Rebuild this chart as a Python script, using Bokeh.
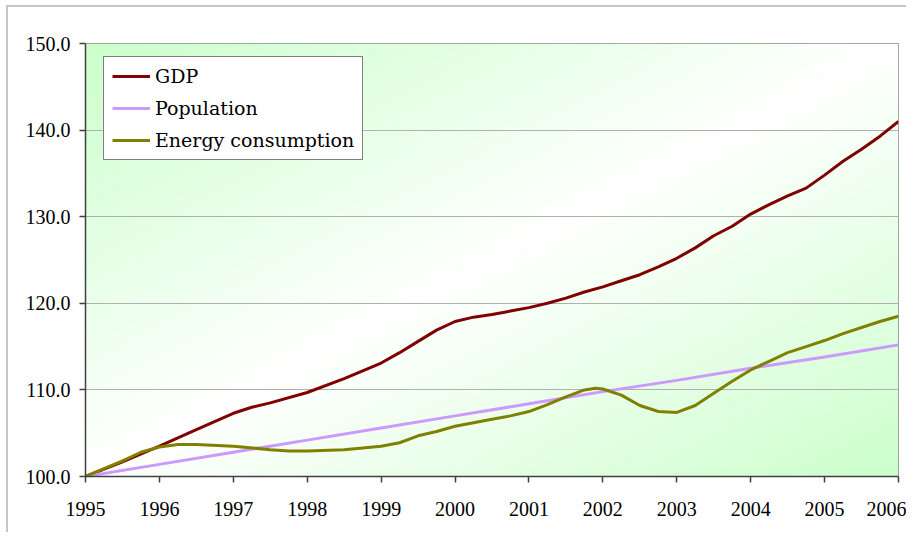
import numpy as np
from bokeh.plotting import figure
from bokeh.models import FixedTicker, NumeralTickFormatter, Legend, LegendItem
from bokeh.embed import file_html
from bokeh.resources import INLINE

# ---- data (index, 1995 = 100) ----
gdp_years = [1995.0, 1995.5, 1996.0, 1996.5, 1997.0, 1997.25, 1997.5, 1998.0, 1998.5,
             1999.0, 1999.25, 1999.5, 1999.75, 2000.0, 2000.25, 2000.5, 2000.75,
             2001.0, 2001.25, 2001.5, 2001.75, 2002.0, 2002.25, 2002.5, 2002.75,
             2003.0, 2003.25, 2003.5, 2003.75, 2004.0, 2004.25, 2004.5, 2004.75,
             2005.0, 2005.25, 2005.5, 2005.75, 2006.0]
gdp = [100.0, 101.7, 103.5, 105.4, 107.3, 108.0, 108.5, 109.7, 111.3,
       113.1, 114.3, 115.6, 116.9, 117.9, 118.4, 118.7, 119.1,
       119.5, 120.0, 120.6, 121.3, 121.9, 122.6, 123.3, 124.2,
       125.2, 126.4, 127.8, 128.9, 130.3, 131.4, 132.4, 133.3,
       134.8, 136.4, 137.8, 139.3, 141.0]

pop_years = [1995, 1996, 1997, 1998, 1999, 2000, 2001, 2002, 2003, 2004, 2005, 2006]
population = [100.0, 101.4, 102.8, 104.2, 105.6, 107.0, 108.4, 109.8, 111.1, 112.5, 113.8, 115.2]

energy_years = [1995.0, 1995.5, 1995.75, 1996.0, 1996.25, 1996.5, 1997.0, 1997.5, 1997.75,
                1998.0, 1998.5, 1999.0, 1999.25, 1999.5, 1999.75, 2000.0, 2000.5, 2000.75,
                2001.0, 2001.25, 2001.5, 2001.75, 2001.9, 2002.0, 2002.25, 2002.5, 2002.75,
                2003.0, 2003.25, 2003.5, 2003.75, 2004.0, 2004.25, 2004.5, 2004.75,
                2005.0, 2005.25, 2005.5, 2005.75, 2006.0]
energy = [100.0, 101.8, 102.8, 103.4, 103.7, 103.7, 103.5, 103.1, 102.95,
          102.95, 103.1, 103.5, 103.9, 104.7, 105.2, 105.8, 106.6, 107.0,
          107.5, 108.3, 109.2, 110.0, 110.2, 110.1, 109.4, 108.2, 107.5,
          107.4, 108.2, 109.6, 111.0, 112.3, 113.3, 114.3, 115.0,
          115.7, 116.5, 117.2, 117.9, 118.5]

x_ticks = [1995, 1996, 1997, 1998, 1999, 2000, 2001, 2002, 2003, 2004, 2005, 2006]
y_ticks = [100, 110, 120, 130, 140, 150]

TICK_FONT = "'Liberation Serif', serif"
LEG_FONT = "'DejaVu Serif', serif"

p = figure(width=906, height=532, output_backend="svg", toolbar_location=None,
           x_range=(x_ticks[0], x_ticks[-1]), y_range=(y_ticks[0], y_ticks[-1]),
           min_border_left=85, min_border_top=43, min_border_right=8, min_border_bottom=56)

# outer chart-area border (light gray, left and top edges) drawn behind a transparent border fill
p.border_fill_alpha = 0
p.styles = {
    "background": ("linear-gradient(#c6c6c6, #c6c6c6) 6px 5px / 2px 100% no-repeat, "
                   "linear-gradient(#c6c6c6, #c6c6c6) 6px 5px / 100% 2px no-repeat, white"),
}

# background gradient (green corners top-left / bottom-right, white diagonal)
ny, nx = 216, 406
xs = np.linspace(0, 1, nx)[None, :]
ys = np.linspace(0, 1, ny)[:, None]          # row 0 = bottom
s = xs + (1 - ys)
g = np.clip(np.abs(s - 1.0), 0, 1)
r = (255 - (255 - 204) * g).astype(np.uint32)
gg = np.full_like(r, 255)
b = r.copy()
img = (255 << 24) | (b << 16) | (gg << 8) | r
p.image_rgba(image=[img.astype(np.uint32)], x=x_ticks[0], y=y_ticks[0],
             dw=x_ticks[-1] - x_ticks[0], dh=y_ticks[-1] - y_ticks[0], level="image")

r_gdp = p.line(gdp_years, gdp, line_color="#800000", line_width=3)
r_pop = p.line(pop_years, population, line_color="#cc99ff", line_width=3)
r_en = p.line(energy_years, energy, line_color="#808000", line_width=3)

p.background_fill_color = "white"
p.outline_line_color = "#8a8a8a"
p.outline_line_width = 1

p.xgrid.grid_line_color = None
p.ygrid.grid_line_color = "#b0b0b0"
p.ygrid.grid_line_width = 1

p.xaxis.ticker = FixedTicker(ticks=x_ticks)
p.yaxis.ticker = FixedTicker(ticks=y_ticks)
p.yaxis.formatter = NumeralTickFormatter(format="0.0")
for ax in (p.xaxis, p.yaxis):
    ax.axis_line_color = "#404040"
    ax.axis_line_width = 1.5
    ax.major_tick_line_color = "#404040"
    ax.major_tick_line_width = 1.5
    ax.major_tick_in = 0
    ax.major_tick_out = 6
    ax.minor_tick_line_color = None
    ax.major_label_text_font = TICK_FONT
    ax.major_label_text_font_size = "20px"
    ax.major_label_text_color = "black"
p.xaxis.major_label_standoff = 19
p.yaxis.major_label_standoff = 9

legend = Legend(items=[LegendItem(label="GDP", renderers=[r_gdp]),
                       LegendItem(label="Population", renderers=[r_pop]),
                       LegendItem(label="Energy consumption", renderers=[r_en])],
                location=(18, 316))
legend.border_line_color = "black"
legend.border_line_width = 1
legend.background_fill_color = "white"
legend.background_fill_alpha = 1
legend.label_text_font = LEG_FONT
legend.label_text_font_size = "19px"
legend.label_text_color = "black"
legend.glyph_width = 38
legend.glyph_height = 20
legend.label_height = 20
legend.label_standoff = 5
legend.padding = 8
legend.spacing = 10
legend.margin = 0
p.add_layout(legend)

open("out.html", "w").write(file_html(p, INLINE))
